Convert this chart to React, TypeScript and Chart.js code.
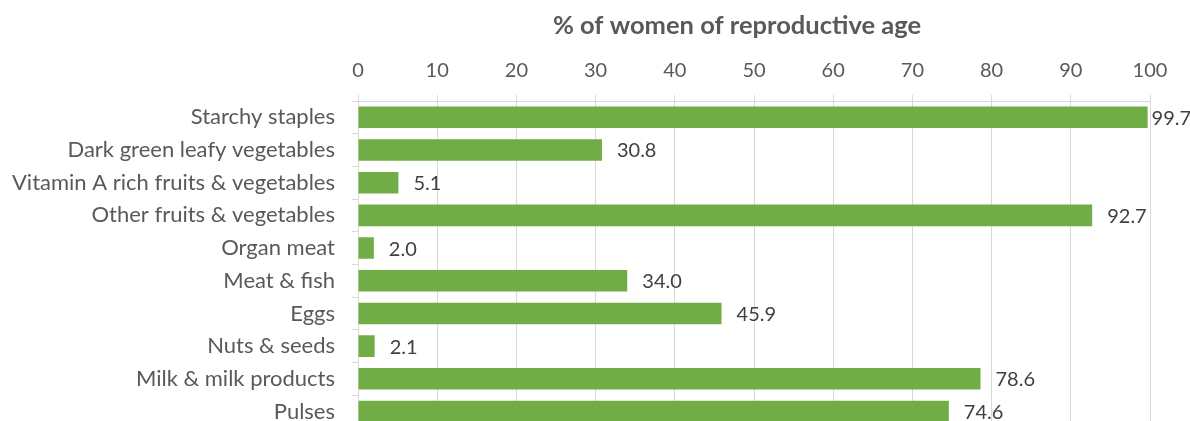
import React, { useEffect, useRef } from "react";
import { Chart, registerables } from "chart.js";

Chart.register(...registerables);

const categories = [
  "Starchy staples",
  "Dark green leafy vegetables",
  "Vitamin A rich fruits & vegetables",
  "Other fruits & vegetables",
  "Organ meat",
  "Meat & fish",
  "Eggs",
  "Nuts & seeds",
  "Milk & milk products",
  "Pulses",
];
const values = [99.7, 30.8, 5.1, 92.7, 2.0, 34.0, 45.9, 2.1, 78.6, 74.6];
const axisTitle = "% of women of reproductive age";

const FONT = "Lato, 'Open Sans', sans-serif";

const labelPlugin = {
  id: "barLabels",
  afterDatasetsDraw(chart: any) {
    const ctx = chart.ctx;
    const meta = chart.getDatasetMeta(0);
    ctx.save();
    ctx.font = `20px ${FONT}`;
    ctx.fillStyle = "#404040";
    ctx.textAlign = "left";
    ctx.textBaseline = "middle";
    meta.data.forEach((bar: any, i: number) => {
      const txt = values[i].toFixed(1);
      const w = ctx.measureText(txt).width;
      const x = Math.max(bar.x + 4, Math.min(bar.x + 15, chart.width - 3 - w));
      ctx.fillText(txt, x, bar.y + 1);
    });
    ctx.restore();
  },
};

const titlePlugin = {
  id: "topTitle",
  afterDraw(chart: any) {
    const ctx = chart.ctx;
    ctx.save();
    ctx.font = `bold 25.5px ${FONT}`;
    ctx.fillStyle = "#595959";
    ctx.textAlign = "center";
    ctx.textBaseline = "middle";
    ctx.fillText(axisTitle, 737, 26);
    ctx.restore();
  },
};

export default function App() {
  const ref = useRef<HTMLCanvasElement>(null);
  useEffect(() => {
    if (!ref.current) return;
    const chart = new Chart(ref.current, {
      type: "bar",
      data: {
        labels: categories,
        datasets: [
          {
            data: values,
            backgroundColor: "#70AD47",
            borderWidth: 0,
            barPercentage: 0.66,
            categoryPercentage: 1,
          },
        ],
      },
      options: {
        indexAxis: "y",
        responsive: false,
        animation: false,
        layout: { padding: { left: 0, right: 40, top: 0, bottom: 0 } },
        plugins: {
          legend: { display: false },
          tooltip: { enabled: false },
        },
        scales: {
          x: {
            position: "top",
            min: 0,
            max: 100,
            ticks: {
              stepSize: 10,
              color: "#595959",
              font: { family: FONT, size: 20 },
              padding: 12,
            },
            grid: {
              color: "#d9d9d9",
              lineWidth: 1,
              tickLength: 6,
            },
            border: { display: true, color: "#d9d9d9" },
            afterFit(scale: any) {
              scale.height = 101;
            },
          },
          y: {
            ticks: {
              color: "#595959",
              font: { family: FONT, size: 22 },
              padding: 17,
              autoSkip: false,
            },
            grid: {
              drawOnChartArea: false,
              color: "#d9d9d9",
              tickLength: 6,
            },
            border: { display: true, color: "#d9d9d9" },
            afterFit(scale: any) {
              scale.width = 358;
            },
          },
        },
      },
      plugins: [labelPlugin, titlePlugin],
    });
    return () => chart.destroy();
  }, []);
  return (
    <div
      style={{
        position: "fixed",
        left: 0,
        top: 0,
        width: 1190,
        height: 421,
        overflow: "hidden",
        background: "#fff",
      }}
    >
      <canvas ref={ref} width={1190} height={458} style={{ display: "block" }} />
    </div>
  );
}
